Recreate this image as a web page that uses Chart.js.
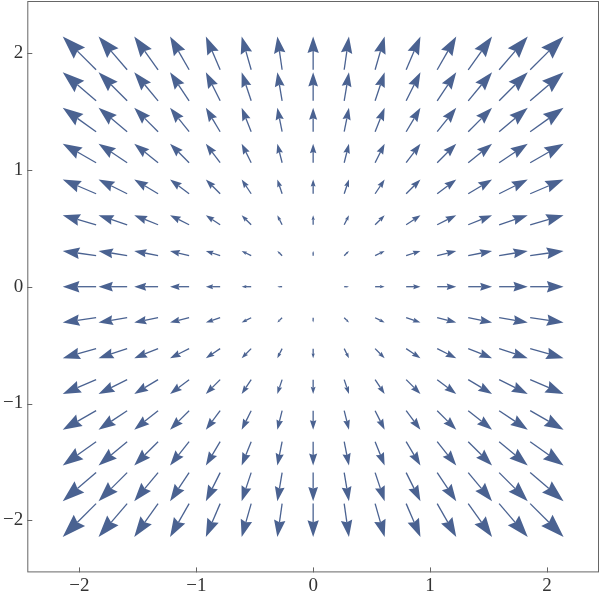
<!DOCTYPE html>
<html>
<head>
<meta charset="utf-8">
<script src="https://cdn.jsdelivr.net/npm/chart.js@4.4.1/dist/chart.umd.min.js"></script>
<style>
  html, body { margin: 0; padding: 0; background: #fff; }
  #wrap { width: 600px; height: 600px; }
</style>
</head>
<body>
<div id="wrap"><canvas id="chart"></canvas></div>
<script>
// grid positions (data units) and field components
const gridX = [-2, -1.714, -1.429, -1.143, -0.857, -0.571, -0.286, 0, 0.286, 0.571, 0.857, 1.143, 1.429, 1.714, 2];
const gridY = [-2, -1.714, -1.429, -1.143, -0.857, -0.571, -0.286, 0, 0.286, 0.571, 0.857, 1.143, 1.429, 1.714, 2];
const uByColumn = [-2, -1.714, -1.429, -1.143, -0.857, -0.571, -0.286, 0, 0.286, 0.571, 0.857, 1.143, 1.429, 1.714, 2];
const vByRow = [-2, -1.714, -1.429, -1.143, -0.857, -0.571, -0.286, 0, 0.286, 0.571, 0.857, 1.143, 1.429, 1.714, 2];
const tickValues = [-2, -1, 0, 1, 2];

const ARROW = '#4a6291';
const FRAME = '#666666';
const vecScale = 1 / 7; // arrow length in data units per unit of field

const points = [];
gridY.forEach((y, j) => {
  gridX.forEach((x, i) => {
    points.push({ x: x, y: y, u: uByColumn[i], v: vByRow[j] });
  });
});

const fmt = (v) => (v < 0 ? '\u2212' + Math.abs(v) : String(v));

// draws each point as an arrow centred on its grid location
const arrowPlugin = {
  id: 'arrows',
  afterDatasetsDraw(chart) {
    const ctx = chart.ctx;
    const xs = chart.scales.x, ys = chart.scales.y;
    ctx.save();
    ctx.fillStyle = ARROW;
    ctx.strokeStyle = ARROW;
    ctx.lineWidth = 1.3;
    chart.data.datasets[0].data.forEach((p) => {
      const dx = p.u * vecScale / 2, dy = p.v * vecScale / 2;
      const x0 = xs.getPixelForValue(p.x - dx), y0 = ys.getPixelForValue(p.y - dy);
      const x1 = xs.getPixelForValue(p.x + dx), y1 = ys.getPixelForValue(p.y + dy);
      const L = Math.hypot(x1 - x0, y1 - y0);
      if (L < 0.5) return;
      const ux = (x1 - x0) / L, uy = (y1 - y0) / L;
      const hl = 0.5 * L, hw = 0.17 * L;
      const bx = x1 - ux * hl, by = y1 - uy * hl;
      const nx = x1 - ux * hl * 0.88, ny = y1 - uy * hl * 0.88;
      ctx.beginPath();
      ctx.moveTo(x0, y0);
      ctx.lineTo(nx, ny);
      ctx.stroke();
      ctx.beginPath();
      ctx.moveTo(x1, y1);
      ctx.lineTo(bx - uy * hw, by + ux * hw);
      ctx.lineTo(nx, ny);
      ctx.lineTo(bx + uy * hw, by - ux * hw);
      ctx.closePath();
      ctx.fill();
    });
    ctx.restore();
  },
  afterDraw(chart) {
    const { ctx, chartArea: a } = chart;
    const xs = chart.scales.x, ys = chart.scales.y;
    ctx.save();
    ctx.strokeStyle = FRAME;
    ctx.lineWidth = 1;
    ctx.strokeRect(a.left + 0.5, a.top + 0.5, a.right - a.left - 1, a.bottom - a.top - 1);
    ctx.beginPath();
    tickValues.forEach((t) => {
      const px = Math.round(xs.getPixelForValue(t)) + 0.5;
      ctx.moveTo(px, a.bottom);
      ctx.lineTo(px, a.bottom - 5);
      const py = Math.round(ys.getPixelForValue(t)) + 0.5;
      ctx.moveTo(a.left, py);
      ctx.lineTo(a.left + 5, py);
    });
    ctx.stroke();
    ctx.restore();
  }
};

const axisFont = { family: "'Liberation Serif', 'DejaVu Serif', serif", size: 19 };

new Chart(document.getElementById('chart').getContext('2d'), {
  type: 'scatter',
  data: {
    datasets: [{ data: points, pointRadius: 0, pointHoverRadius: 0, showLine: false }]
  },
  options: {
    responsive: true,
    maintainAspectRatio: false,
    animation: false,
    layout: { padding: { top: 1, right: 1, left: 0, bottom: 0 } },
    scales: {
      x: {
        type: 'linear',
        min: -2.446,
        max: 2.446,
        afterBuildTicks: (s) => { s.ticks = tickValues.map((v) => ({ value: v })); },
        afterFit: (s) => { s.height = 27.6; s.paddingLeft = 0; s.paddingRight = 0; },
        grid: { display: true, drawOnChartArea: false, drawTicks: false },
        border: { display: false },
        ticks: { color: '#333', font: axisFont, padding: 2, callback: fmt, maxRotation: 0 }
      },
      y: {
        type: 'linear',
        min: -2.446,
        max: 2.446,
        afterBuildTicks: (s) => { s.ticks = tickValues.map((v) => ({ value: v })); },
        afterFit: (s) => { s.width = 27.3; s.paddingTop = 0; s.paddingBottom = 0; },
        grid: { display: true, drawOnChartArea: false, drawTicks: false },
        border: { display: false },
        ticks: { color: '#333', font: axisFont, padding: 4, callback: fmt }
      }
    },
    plugins: { legend: { display: false }, tooltip: { enabled: false } }
  },
  plugins: [arrowPlugin]
});
</script>
</body>
</html>
